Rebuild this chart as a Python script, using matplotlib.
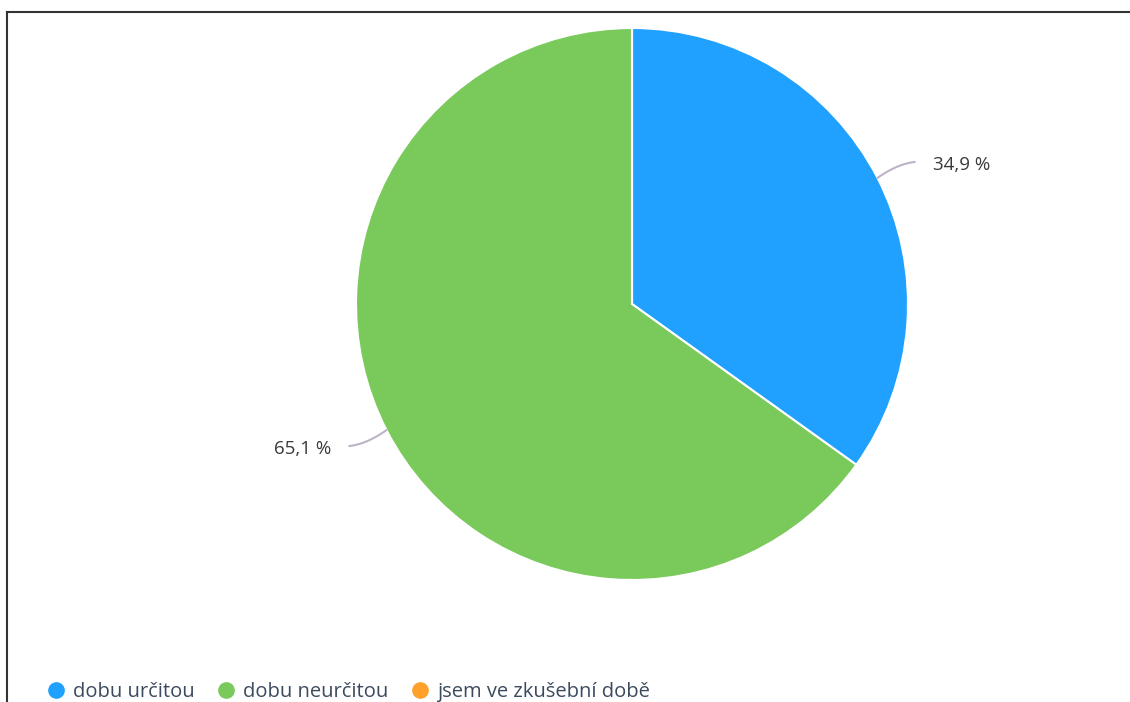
import numpy as np
import matplotlib.pyplot as plt
from matplotlib.lines import Line2D

plt.rcParams['font.family'] = ['Open Sans', 'DejaVu Sans']

categories = ['dobu určitou', 'dobu neurčitou', 'jsem ve zkušební době']
shares = [34.9, 65.1, 0.0]
colors = ['#21a1ff', '#7ac95b', '#ffa12b']

W, H = 1130, 702
fig = plt.figure(figsize=(W / 100, H / 100), dpi=100)

# pie axes: centre (632, 304) px from top, radius 276 px
cx, cy, r = 632, 304, 276
ax = fig.add_axes([(cx - r) / W, (H - cy - r) / H, 2 * r / W, 2 * r / H])

wedges, _ = ax.pie(shares, colors=colors, startangle=90, counterclock=False,
                   radius=1, wedgeprops=dict(edgecolor='white', linewidth=1.5))
ax.set_xlim(-1, 1)
ax.set_ylim(-1, 1)
ax.set_aspect('equal')
ax.axis('off')

# leader lines and percentage labels
start = 90.0
for val in shares:
    sweep = val / 100 * 360
    mid = np.deg2rad(start - sweep / 2)
    start -= sweep
    if val <= 0:
        continue
    ex, ey = np.cos(mid), np.sin(mid)
    sx, sy = np.sign(ex), np.sign(ey)
    kx, ky = ex + 0.07 * sx, ey + 0.05 * sy
    fx, fy = ex + 0.135 * sx, ey + 0.058 * sy
    t = np.linspace(0, 1, 30)
    bx = (1 - t) ** 2 * ex + 2 * (1 - t) * t * kx + t ** 2 * fx
    by = (1 - t) ** 2 * ey + 2 * (1 - t) * t * ky + t ** 2 * fy
    ax.plot(bx, by, color='#bdb3c9', lw=1.5, clip_on=False, solid_capstyle='round')
    label = f'{val:.1f} %'.replace('.', ',')
    ax.text(fx + 0.065 * sx, fy - 0.01, label, ha='left' if sx > 0 else 'right',
            va='center', fontsize=13.5, color='#3a3a3a')

# legend along the bottom
handles = [Line2D([], [], marker='o', linestyle='', markersize=11,
                  markerfacecolor=c, markeredgecolor=c) for c in colors]
fig.legend(handles, categories, loc='center left', ncol=3,
           bbox_to_anchor=(28 / W, 1 - 692 / H), frameon=False,
           fontsize=14.5, handletextpad=0.35, columnspacing=1.05,
           handlelength=1.0, labelcolor='#3c4a5e')

# frame lines on top and left
fig.add_artist(Line2D([7 / W, 1], [1 - 12 / H, 1 - 12 / H], color='#333333', lw=1.5))
fig.add_artist(Line2D([7 / W, 7 / W], [0, 1 - 12 / H], color='#333333', lw=1.5))

fig.savefig('out.png', dpi=100)
